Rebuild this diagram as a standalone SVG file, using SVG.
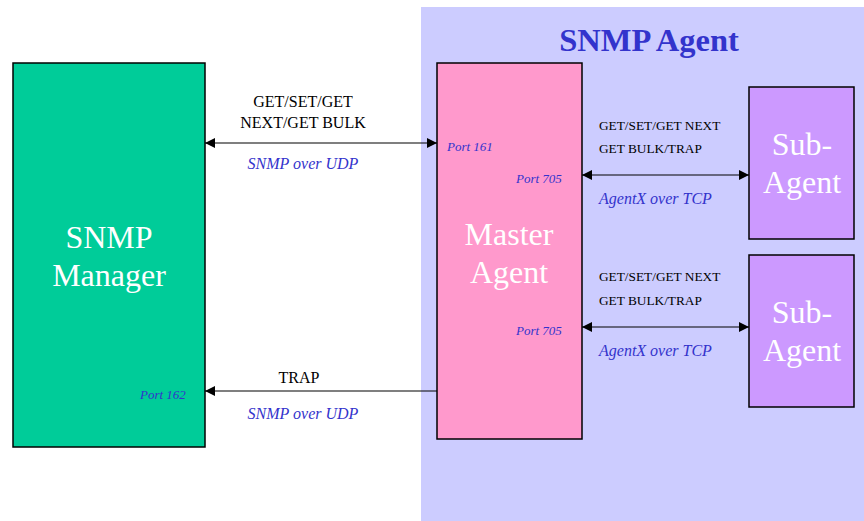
<svg xmlns="http://www.w3.org/2000/svg" width="864" height="521" viewBox="0 0 864 521">
  <defs>
    <marker id="arr" viewBox="0 0 10 10" refX="10" refY="5" markerWidth="10" markerHeight="10" markerUnits="userSpaceOnUse" orient="auto-start-reverse">
      <path d="M0,0 L10,5 L0,10 z" fill="#000"/>
    </marker>
    <style>
      .box { stroke: #000; stroke-width: 1.5; }
      .big { font-family: "Liberation Serif", serif; font-size: 32px; fill: #fff; text-anchor: middle; }
      .msg { font-family: "Liberation Serif", serif; font-size: 16px; fill: #000; }
      .msg-s { font-family: "Liberation Serif", serif; font-size: 13.3px; fill: #000; }
      .proto { font-family: "Liberation Serif", serif; font-size: 16px; font-style: italic; fill: #3333CC; }
      .port { font-family: "Liberation Serif", serif; font-size: 13px; font-style: italic; fill: #3333CC; }
      .link { stroke: #000; stroke-width: 1.2; fill: none; }
    </style>
  </defs>

  <rect x="0" y="0" width="864" height="521" fill="#fff"/>

  <!-- agent host area -->
  <g id="agent-area">
    <rect x="421" y="7" width="443" height="514" fill="#CCCCFF"/>
    <text x="649" y="51" font-family="Liberation Serif, serif" font-size="32.5" font-weight="bold" fill="#3333CC" text-anchor="middle">SNMP Agent</text>
  </g>

  <g id="manager">
    <rect class="box" x="13" y="63" width="192" height="384" fill="#00CC99"/>
    <text class="big" x="109" y="248">SNMP</text>
    <text class="big" x="109" y="286">Manager</text>
    <text class="port" x="140" y="399">Port 162</text>
  </g>

  <g id="master-agent">
    <rect class="box" x="437" y="63" width="145" height="376" fill="#FF99CC"/>
    <text class="big" x="509" y="245">Master</text>
    <text class="big" x="509" y="283">Agent</text>
    <text class="port" x="447" y="151">Port 161</text>
    <text class="port" x="516" y="183">Port 705</text>
    <text class="port" x="516" y="335">Port 705</text>
  </g>

  <g id="sub-agent-1">
    <rect class="box" x="749" y="87" width="105" height="152" fill="#CC99FF"/>
    <text class="big" x="802" y="155">Sub-</text>
    <text class="big" x="802" y="193">Agent</text>
  </g>

  <g id="sub-agent-2">
    <rect class="box" x="749" y="255" width="105" height="152" fill="#CC99FF"/>
    <text class="big" x="802" y="323">Sub-</text>
    <text class="big" x="802" y="361">Agent</text>
  </g>

  <g id="connectors">
    <line class="link" x1="205" y1="143" x2="437" y2="143" marker-start="url(#arr)" marker-end="url(#arr)"/>
    <line class="link" x1="582" y1="175" x2="749" y2="175" marker-start="url(#arr)" marker-end="url(#arr)"/>
    <line class="link" x1="582" y1="327" x2="749" y2="327" marker-start="url(#arr)" marker-end="url(#arr)"/>
    <line class="link" x1="437" y1="391" x2="205" y2="391" marker-end="url(#arr)"/>

    <text class="msg" x="303" y="107" text-anchor="middle">GET/SET/GET</text>
    <text class="msg" x="303" y="128" text-anchor="middle">NEXT/GET BULK</text>
    <text class="proto" x="303" y="169" text-anchor="middle">SNMP over UDP</text>

    <text class="msg-s" x="599" y="130">GET/SET/GET NEXT</text>
    <text class="msg-s" x="599" y="153">GET BULK/TRAP</text>
    <text class="proto" x="599" y="204">AgentX over TCP</text>

    <text class="msg-s" x="599" y="281">GET/SET/GET NEXT</text>
    <text class="msg-s" x="599" y="305">GET BULK/TRAP</text>
    <text class="proto" x="599" y="356">AgentX over TCP</text>

    <text class="msg" x="299" y="383" text-anchor="middle">TRAP</text>
    <text class="proto" x="303" y="419" text-anchor="middle">SNMP over UDP</text>
  </g>
</svg>
